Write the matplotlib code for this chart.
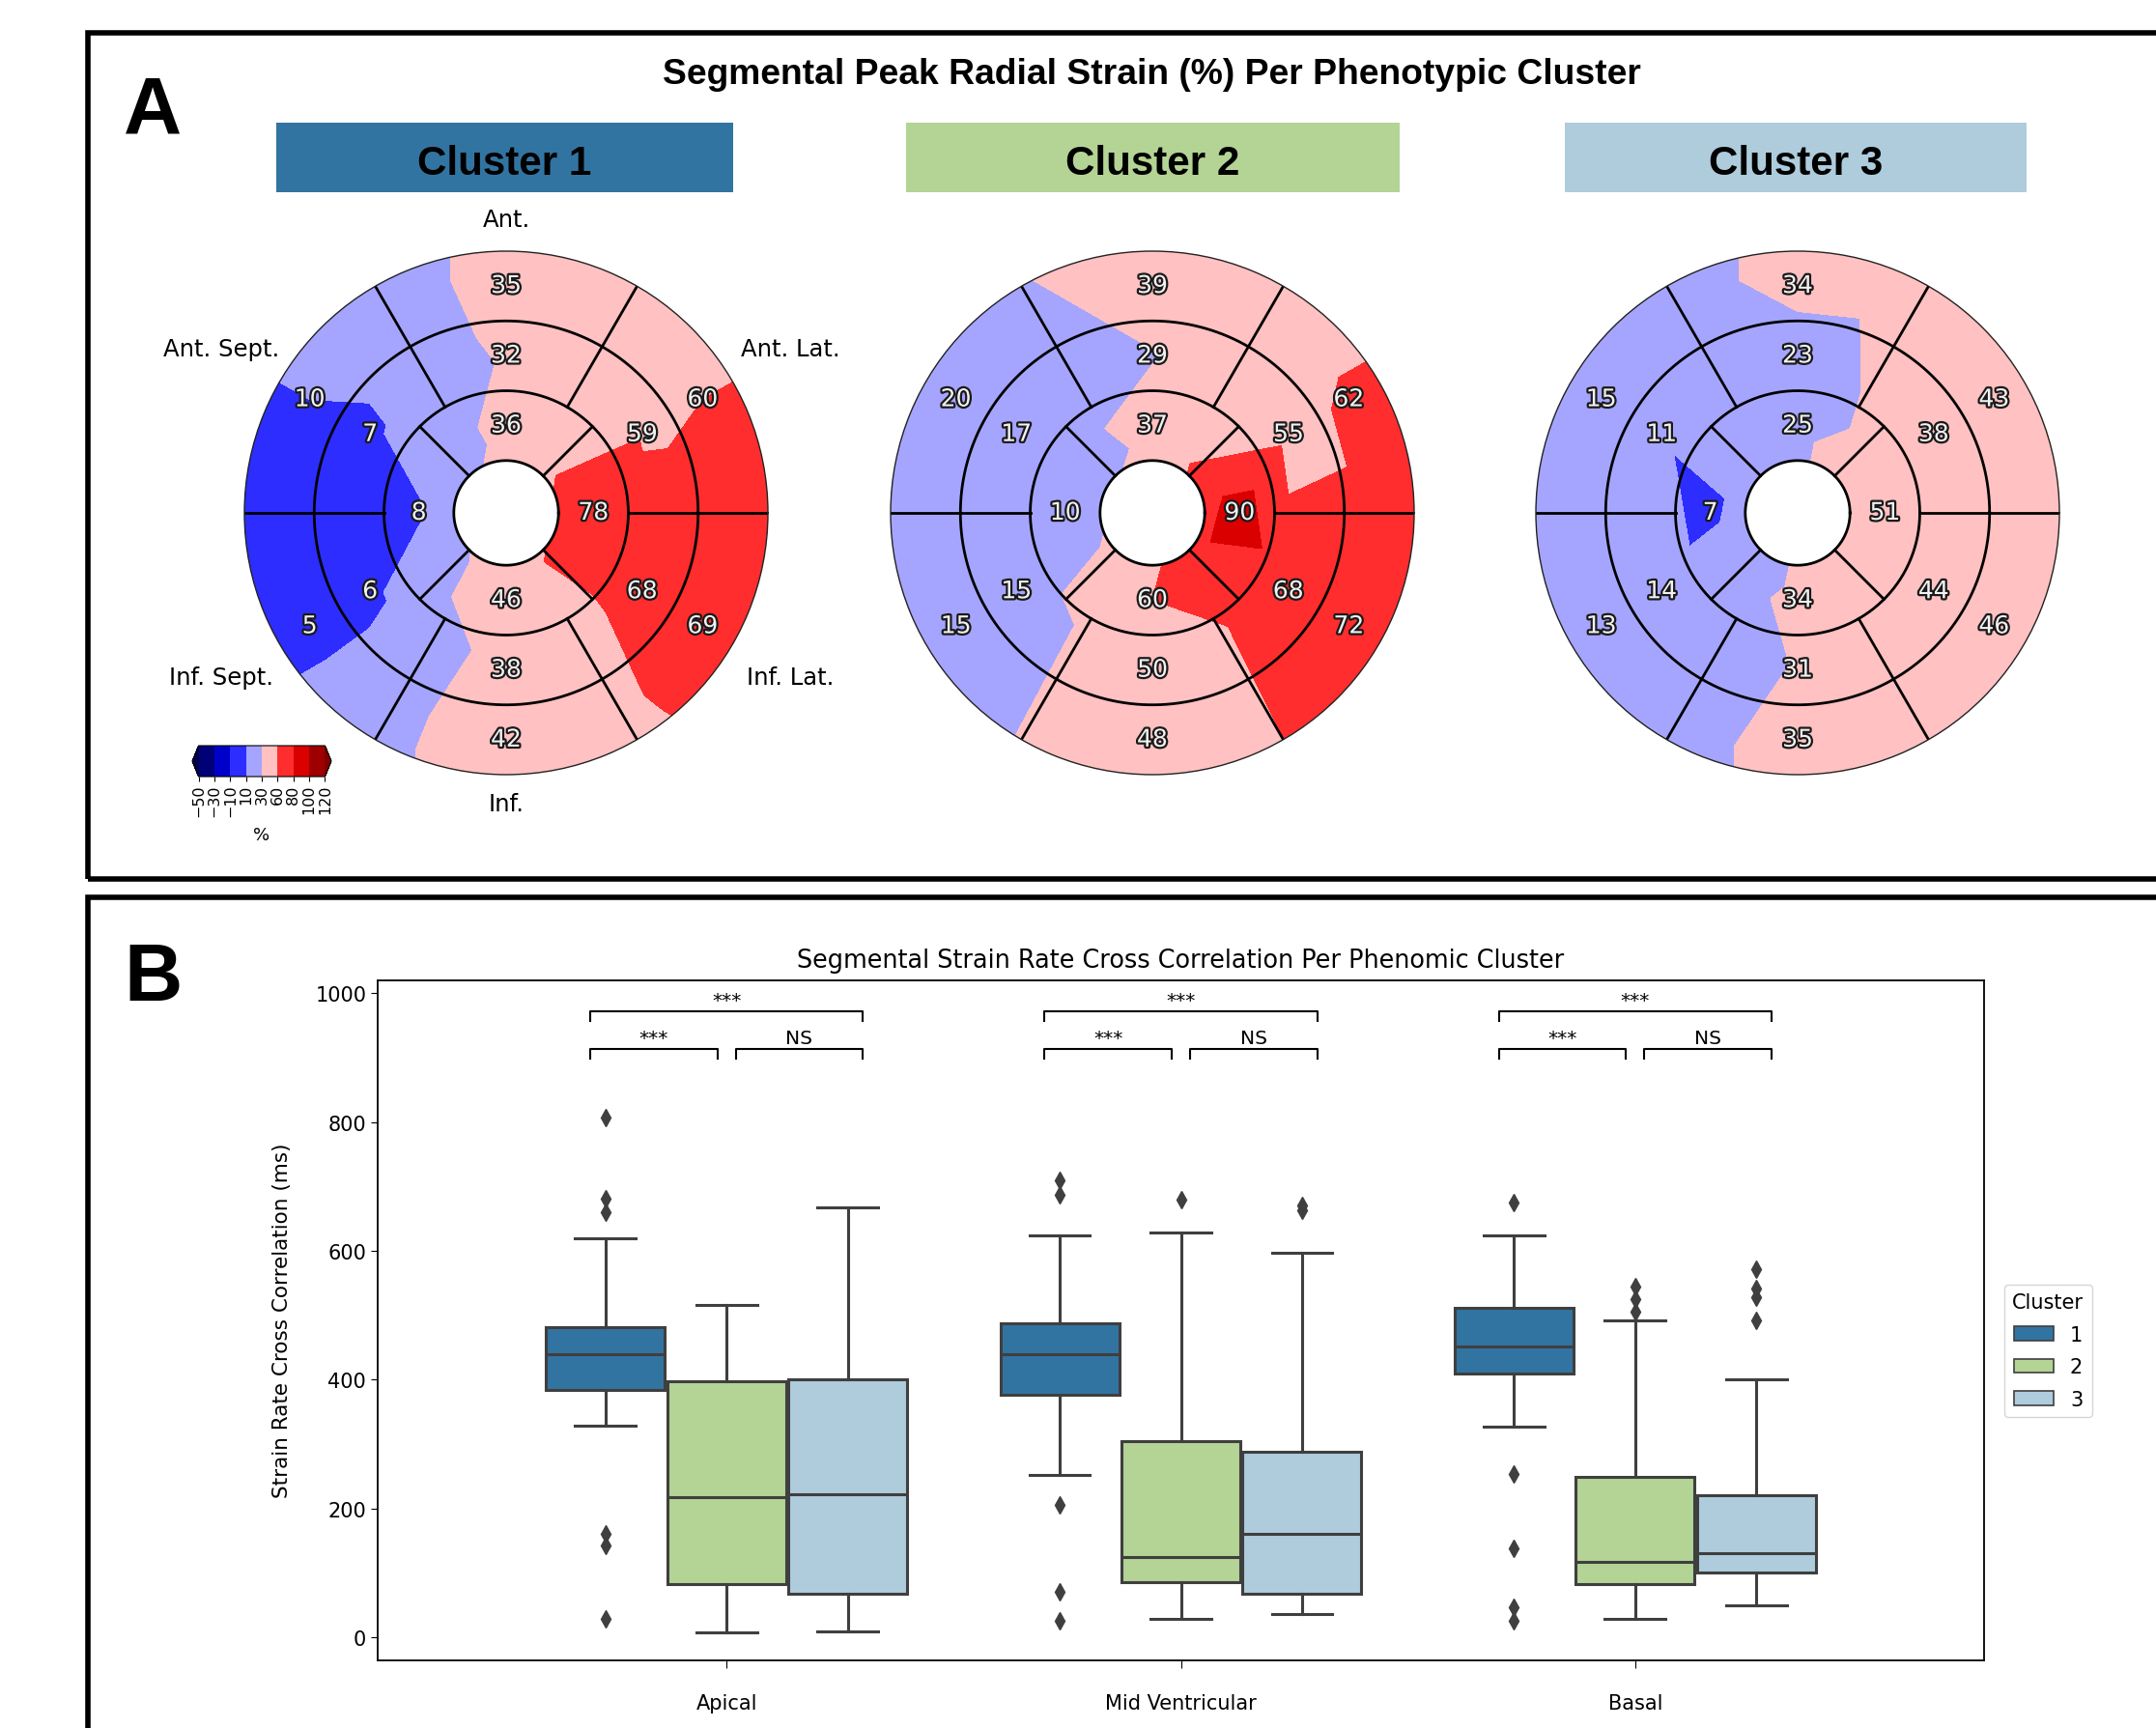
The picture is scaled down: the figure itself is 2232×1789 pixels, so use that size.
import numpy as np
import matplotlib
matplotlib.use("Agg")
import matplotlib.pyplot as plt
import matplotlib.tri as mtri
import matplotlib.patheffects as pe
from matplotlib.patches import Rectangle

# ---------------- data ----------------
cluster_names = ["Cluster 1", "Cluster 2", "Cluster 3"]
# AHA segments 1-16: basal (ant, antsept, infsept, inf, inflat, antlat),
# mid (same order), apical (ant, sept, inf, lat)
strain_cluster1 = [35, 10, 5, 42, 69, 60, 32, 7, 6, 38, 68, 59, 36, 8, 46, 78]
strain_cluster2 = [39, 20, 15, 48, 72, 62, 29, 17, 15, 50, 68, 55, 37, 10, 60, 90]
strain_cluster3 = [34, 15, 13, 35, 46, 43, 23, 11, 14, 31, 44, 38, 25, 7, 34, 51]
strain_levels = [-50, -30, -10, 10, 30, 60, 80, 100, 120]
wall_labels = ["Ant.", "Ant. Sept.", "Inf. Sept.", "Inf.", "Inf. Lat.", "Ant. Lat."]

regions = ["Apical", "Mid Ventricular", "Basal"]
hue_labels = ["1", "2", "3"]
# box statistics: [whisker low, Q1, median, Q3, whisker high]
apical_c1 = [328, 384, 440, 481, 619]
apical_c2 = [8, 83, 218, 397, 516]
apical_c3 = [9, 68, 222, 401, 667]
mid_c1 = [252, 377, 439, 488, 624]
mid_c2 = [29, 85, 125, 305, 628]
mid_c3 = [36, 68, 160, 288, 597]
basal_c1 = [327, 410, 452, 512, 624]
basal_c2 = [29, 83, 117, 249, 492]
basal_c3 = [49, 101, 131, 220, 401]
apical_c1_out = [807, 681, 660, 160, 143, 29]
apical_c2_out = []
apical_c3_out = []
mid_c1_out = [709, 687, 206, 71, 26]
mid_c2_out = [679]
mid_c3_out = [670, 663]
basal_c1_out = [675, 253, 138, 47, 26]
basal_c2_out = [545, 525, 506]
basal_c3_out = [572, 542, 528, 492]
sig_1v3 = ["***", "***", "***"]
sig_1v2 = ["***", "***", "***"]
sig_2v3 = ["NS", "NS", "NS"]

# ---------------- figure ----------------
W, H = 2232, 1790
fig = plt.figure(figsize=(W / 100, H / 100), dpi=100)


def rect(x0, y0, x1, y1):
    return [x0 / W, 1 - y1 / H, (x1 - x0) / W, (y1 - y0) / H]


def fxy(x, y):
    return x / W, 1 - y / H


# panel frames
fig.add_artist(Rectangle(fxy(91, 911), (2400 - 91) / W, (911 - 35) / H,
                         transform=fig.transFigure, fill=False, lw=4, ec="black"))
fig.add_artist(Rectangle(fxy(91, 1900), (2400 - 91) / W, (1900 - 930) / H,
                         transform=fig.transFigure, fill=False, lw=4, ec="black"))

bold = dict(family=["Liberation Sans", "DejaVu Sans"], fontweight="bold")
fig.text(*fxy(128, 138), "A", fontsize=60, ha="left", va="baseline", **bold)
fig.text(*fxy(128, 1036), "B", fontsize=60, ha="left", va="baseline", **bold)
fig.text(*fxy(1192, 87), "Segmental Peak Radial Strain (%) Per Phenotypic Cluster",
         fontsize=26.8, ha="center", va="baseline", **bold)

head_colors = ["#3274a1", "#b3d495", "#aeccdb"]
head_boxes = [(286, 759), (938, 1449), (1620, 2098)]
for name, col, (x0, x1) in zip(cluster_names, head_colors, head_boxes):
    fig.add_artist(Rectangle(fxy(x0, 200), (x1 - x0) / W, 72 / H,
                             transform=fig.transFigure, color=col, lw=0))
    fig.text(*fxy((x0 + x1) / 2, 181), name, fontsize=30.3, ha="center",
             va="baseline", **bold)

# ---------------- bullseyes ----------------
r_in, r1, r2, r_out = 0.2, 0.2 + 0.8 / 3, 0.2 + 1.6 / 3, 1.0
r_bas, r_mid, r_api = (r2 + r_out) / 2, (r1 + r2) / 2, (r_in + r1) / 2
ang_six = np.deg2rad([90, 150, 210, 270, 330, 30])
ang_four = np.deg2rad([90, 180, 270, 0])


def field(vals):
    v = np.asarray(vals, float)
    px, py, pz = [], [], []
    for rr, angs, vv in [(r_bas, ang_six, v[0:6]), (r_mid, ang_six, v[6:12]),
                         (r_api, ang_four, v[12:16])]:
        px += list(rr * np.cos(angs)); py += list(rr * np.sin(angs)); pz += list(vv)
    px.append(0.0); py.append(0.0); pz.append(v[12:16].mean())
    ro = 1.06
    for k in range(6):
        a = ang_six[k]
        px.append(ro * np.cos(a)); py.append(ro * np.sin(a)); pz.append(v[k])
        a2 = a + np.deg2rad(30)
        px.append(ro * np.cos(a2)); py.append(ro * np.sin(a2))
        pz.append(0.5 * (v[k] + v[(k + 1) % 6]))
    tri = mtri.Triangulation(px, py)
    itp = mtri.LinearTriInterpolator(tri, pz)
    th = np.linspace(0, 2 * np.pi, 721)
    rr = np.linspace(r_in, r_out, 161)
    TH, RR = np.meshgrid(th, rr)
    Z = itp(RR * np.cos(TH), RR * np.sin(TH))
    return TH, RR, Z


centers = [524, 1193, 1861]
R_px = 271
cy = 532
cs = None
for ci, vals in enumerate([strain_cluster1, strain_cluster2, strain_cluster3]):
    cx = centers[ci]
    ax = fig.add_axes(rect(cx - R_px, cy - R_px, cx + R_px, cy + R_px), projection="polar")
    TH, RR, Z = field(vals)
    cs = ax.contourf(TH, RR, Z, levels=strain_levels, cmap="seismic", extend="both")
    th = np.linspace(0, 2 * np.pi, 400)
    for rr in [r_in, r1, r2]:
        ax.plot(th, np.full_like(th, rr), color="black", lw=2)
    for a in np.deg2rad([0, 60, 120, 180, 240, 300]):
        ax.plot([a, a], [r1, r_out], color="black", lw=2)
    for a in np.deg2rad([45, 135, 225, 315]):
        ax.plot([a, a], [r_in, r1], color="black", lw=2)
    ax.set_ylim(0, 1)
    ax.set_xticks([]); ax.set_yticks([])
    ax.grid(False)
    ax.spines["polar"].set_linewidth(1.0)
    ax.spines["polar"].set_color("#222222")
    seg_pos = [(a, r_bas) for a in ang_six] + [(a, r_mid) for a in ang_six] + \
              [(a, r_api) for a in ang_four]
    for (a, rr), v in zip(seg_pos, vals):
        ax.text(a, rr, str(v), ha="center", va="center", fontsize=18, color="#f2f2f2",
                path_effects=[pe.withStroke(linewidth=3.2, foreground="#1a1a1a")])
    if ci == 0:
        lab_pos = [1.12, 1.255, 1.255, 1.11, 1.255, 1.255]
        for a, rr, lab in zip(ang_six, lab_pos, wall_labels):
            ax.text(a, rr, lab, ha="center", va="center", fontsize=17.5)

cax = fig.add_axes(rect(199, 773, 343, 805))
cb = fig.colorbar(cs, cax=cax, orientation="horizontal", ticks=strain_levels)
cax.tick_params(labelsize=11.5, rotation=90, length=3.5, pad=2)
cb.set_label("%", fontsize=13, labelpad=7)

# ---------------- box plot ----------------
axb = fig.add_axes(rect(391, 1016, 2054, 1719.5))
box_cols = ["#3274a1", "#b3d495", "#aeccdb"]
stats_by_region = [
    [(apical_c1, apical_c1_out), (apical_c2, apical_c2_out), (apical_c3, apical_c3_out)],
    [(mid_c1, mid_c1_out), (mid_c2, mid_c2_out), (mid_c3, mid_c3_out)],
    [(basal_c1, basal_c1_out), (basal_c2, basal_c2_out), (basal_c3, basal_c3_out)],
]
bw = 0.8 / 3
edge = "#3f3f3f"
for gi, group in enumerate(stats_by_region):
    for hi, (s, outl) in enumerate(group):
        st = dict(whislo=s[0], q1=s[1], med=s[2], q3=s[3], whishi=s[4], fliers=outl)
        pos = gi + (hi - 1) * bw
        axb.bxp([st], positions=[pos], widths=bw * 0.98, patch_artist=True,
                showfliers=True, manage_ticks=False,
                boxprops=dict(facecolor=box_cols[hi], edgecolor=edge, lw=2.2),
                whiskerprops=dict(color=edge, lw=2.2),
                capprops=dict(color=edge, lw=2.2), capwidths=bw * 0.5,
                medianprops=dict(color=edge, lw=2.2),
                flierprops=dict(marker="d", markerfacecolor=edge, markeredgecolor=edge,
                                markersize=9, linestyle="none"))

for gi in range(3):
    a0, a1, b0, b1 = gi - 0.30, gi - 0.02, gi + 0.02, gi + 0.30
    axb.plot([a0, a0, b1, b1], [957, 972, 972, 957], color="black", lw=1.5)
    axb.plot([a0, a0, a1, a1], [899, 914, 914, 899], color="black", lw=1.5)
    axb.plot([b0, b0, b1, b1], [899, 914, 914, 899], color="black", lw=1.5)
    axb.text(gi, 981, sig_1v3[gi], ha="center", va="baseline", fontsize=14.5)
    axb.text((a0 + a1) / 2, 923, sig_1v2[gi], ha="center", va="baseline", fontsize=14.5)
    axb.text((b0 + b1) / 2, 923, sig_2v3[gi], ha="center", va="baseline", fontsize=14.5)

axb.set_xlim(-0.768, 2.768)
axb.set_ylim(-35, 1020)
axb.set_xticks(range(3))
axb.set_xticklabels(regions)
axb.set_yticks([0, 200, 400, 600, 800, 1000])
axb.tick_params(axis="x", labelsize=15, length=6, pad=19)
axb.tick_params(axis="y", labelsize=15, length=5)
for sp in axb.spines.values():
    sp.set_linewidth(1.3)
axb.set_ylabel("Strain Rate Cross Correlation (ms)", fontsize=15.5)
axb.yaxis.set_label_coords(-0.0535, 0.5)
fig.text(*fxy(1222, 995), "Segmental Strain Rate Cross Correlation Per Phenomic Cluster",
         ha="center", va="center", fontsize=18.4)

handles = [Rectangle((0, 0), 1, 1, facecolor=c, edgecolor=edge, lw=1.2) for c in box_cols]
leg = axb.legend(handles, hue_labels, title="Cluster", loc="upper left",
                 bbox_to_anchor=fxy(2075, 1331), bbox_transform=fig.transFigure,
                 borderaxespad=0, fontsize=15, title_fontsize=15, labelspacing=0.65)

fig.savefig("out.png", dpi=100)
